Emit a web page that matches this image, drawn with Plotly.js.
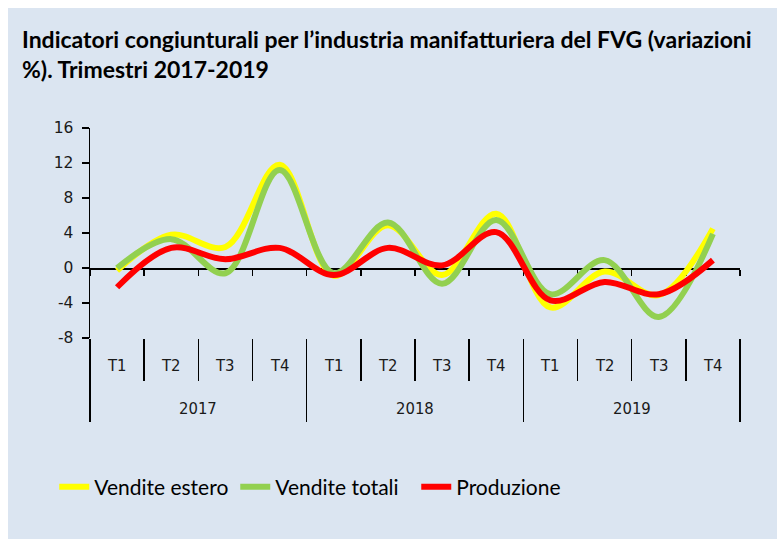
<!DOCTYPE html>
<html>
<head>
<meta charset="utf-8">
<script src="https://cdn.plot.ly/plotly-3.0.1.min.js"></script>
<style>
  html, body { margin: 0; padding: 0; background: #ffffff; }
  #chart { position: absolute; left: 8px; top: 8px; width: 769px; height: 531px; }
</style>
</head>
<body>
<div id="chart"></div>
<script>
const years = ['2017','2017','2017','2017','2018','2018','2018','2018','2019','2019','2019','2019'];
const quarters = ['T1','T2','T3','T4','T1','T2','T3','T4','T1','T2','T3','T4'];
const yearLabels = ['2017', '2018', '2019'];
const venditeEstero = [-0.3, 3.8, 2.4, 11.8, -0.9, 4.9, -0.8, 6.2, -4.5, -0.4, -3.1, 4.5];
const venditeTotali = [0.0, 3.3, -0.6, 11.2, -0.6, 5.2, -1.8, 5.5, -3.0, 0.9, -5.6, 3.9];
const produzione = [-2.2, 2.3, 1.0, 2.3, -0.8, 2.3, 0.3, 4.1, -3.7, -1.6, -3.0, 0.9];
const yTicks = [-8, -4, 0, 4, 8, 12, 16];

const n = quarters.length;
const perYear = n / yearLabels.length;
const boundaries = [];
for (let i = 0; i <= n; i++) boundaries.push(i - 0.5);
const yearBoundaries = [];
for (let j = 0; j <= yearLabels.length; j++) yearBoundaries.push(j * perYear - 0.5);

function series(name, vals, color) {
  return {
    x: [years, quarters], y: vals, name: name, type: 'scatter', mode: 'lines',
    line: { color: color, width: 6, shape: 'spline', smoothing: 1 },
    hoverinfo: 'skip'
  };
}

const traces = [
  series('Vendite estero', venditeEstero, '#ffff00'),
  series('Vendite totali', venditeTotali, '#92d050'),
  series('Produzione', produzione, '#ff0000'),
  { x: [0], y: [null], xaxis: 'x2', yaxis: 'y', mode: 'lines', showlegend: false, hoverinfo: 'skip' },
  { x: [0], y: [null], xaxis: 'x3', yaxis: 'y', mode: 'lines', showlegend: false, hoverinfo: 'skip' }
];

const condensed = '"DejaVu Sans Condensed", "DejaVu Sans", sans-serif';
const humanist = 'Lato, "Open Sans", sans-serif';
const axisFont = { family: 'DejaVu Sans, Verdana, sans-serif', size: 15.5, color: '#1a1a1a' };
const catFont = { family: condensed, size: 16.5, color: '#1a1a1a' };
const yMin = -8, yMax = 16;

const annotations = [];
quarters.forEach((q, i) => {
  annotations.push({ text: q, x: i, xref: 'x2', y: -0.13, yref: 'paper',
    xanchor: 'center', yanchor: 'middle', showarrow: false, font: catFont });
});
yearLabels.forEach((yr, j) => {
  annotations.push({ text: yr, x: j * perYear + (perYear - 1) / 2, xref: 'x2', y: -0.335, yref: 'paper',
    xanchor: 'center', yanchor: 'middle', showarrow: false, font: catFont });
});

const layout = {
  width: 769, height: 531,
  paper_bgcolor: '#dbe5f1', plot_bgcolor: 'rgba(0,0,0,0)',
  margin: { l: 82, r: 37, t: 120, b: 201 },
  title: {
    text: "Indicatori congiunturali per l\u2019industria manifatturiera del FVG (variazioni<br>%). Trimestri 2017-2019",
    font: { family: humanist, size: 23, color: '#000000', weight: 'bold' },
    x: 0, xref: 'container', xanchor: 'left',
    y: 0.925, yref: 'container', yanchor: 'top', pad: { l: 14, t: 0 }
  },
  showlegend: true,
  legend: {
    orientation: 'h', x: -0.055, xanchor: 'left', y: -0.71, yanchor: 'middle',
    font: { family: humanist, size: 21, color: '#000000' },
    bgcolor: 'rgba(0,0,0,0)', traceorder: 'normal',
    entrywidth: 136, entrywidthmode: 'pixels'
  },
  annotations: annotations,
  xaxis: {
    type: 'multicategory',
    range: [-0.5, n - 0.5],
    showline: false, showgrid: false, zeroline: false, showticklabels: false,
    ticks: 'outside', tickson: 'boundaries', ticklen: 42, tickcolor: '#000000', tickwidth: 1.5,
    showdividers: false
  },
  xaxis2: {
    overlaying: 'x', anchor: 'free', position: (0 - yMin) / (yMax - yMin),
    range: [-0.5, n - 0.5], type: 'linear',
    showline: true, linecolor: '#000000', linewidth: 1.5,
    ticks: 'outside', tickvals: boundaries, ticklen: 6, tickcolor: '#000000', tickwidth: 1.5,
    showticklabels: false, showgrid: false, zeroline: false, layer: 'below traces'
  },
  xaxis3: {
    overlaying: 'x', anchor: 'y', side: 'bottom',
    range: [-0.5, n - 0.5], type: 'linear',
    showline: false,
    ticks: 'outside', tickvals: yearBoundaries, ticklen: 83, tickcolor: '#000000', tickwidth: 1.5,
    showticklabels: false, showgrid: false, zeroline: false
  },
  yaxis: {
    range: [yMin, yMax], tickvals: yTicks, ticktext: yTicks.map(String),
    showline: true, linecolor: '#000000', linewidth: 1.5,
    ticks: 'outside', ticklen: 7, tickcolor: '#000000', tickwidth: 1.5,
    ticklabelstandoff: 5,
    showgrid: false, zeroline: false, tickfont: axisFont
  }
};

Plotly.newPlot('chart', traces, layout, { displayModeBar: false, staticPlot: true });
</script>
</body>
</html>
